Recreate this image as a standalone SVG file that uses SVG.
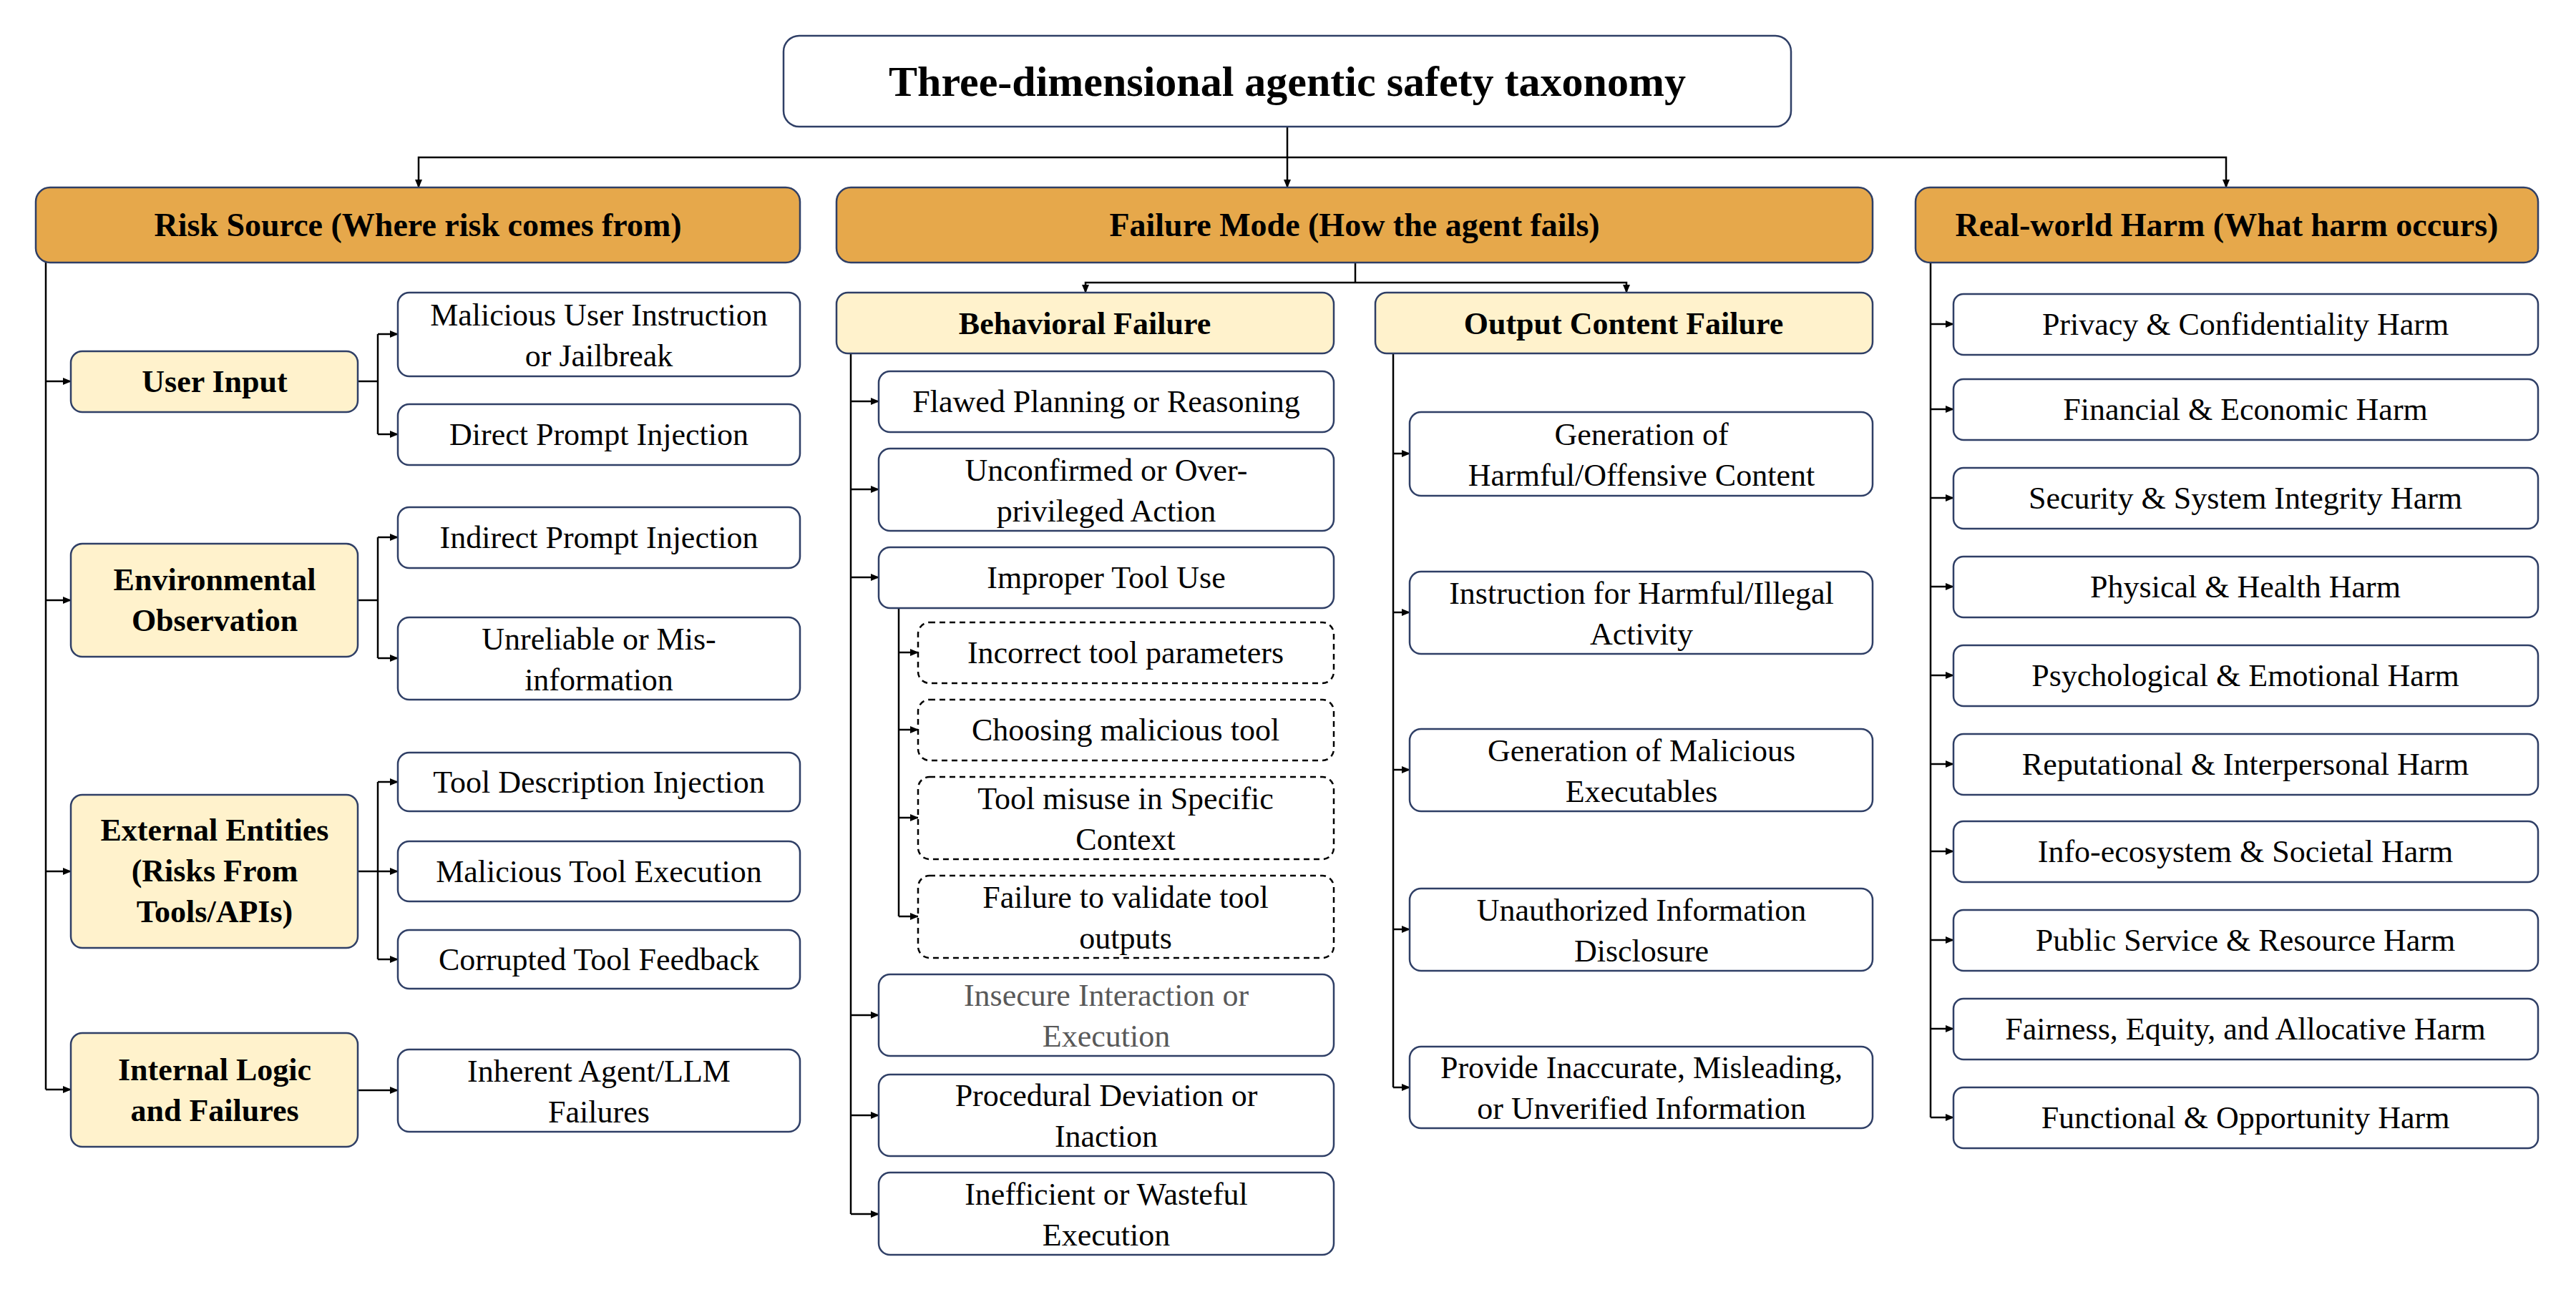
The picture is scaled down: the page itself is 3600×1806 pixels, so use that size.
<svg xmlns="http://www.w3.org/2000/svg" width="3600" height="1806" viewBox="0 0 3600 1806">
<defs>
<marker id="ar" markerUnits="userSpaceOnUse" markerWidth="12" markerHeight="12" refX="11" refY="6" orient="auto"><path d="M0,1 L12,6 L0,11 z" fill="#000"/></marker>
<style>
rect{stroke:#2F3F66;stroke-width:2.5}
.t{fill:#fff}
.l1{fill:#E6A84B}
.l2{fill:#FFF2CC}
.d{fill:#fff;stroke:#000;stroke-dasharray:8 6}
text{font-family:"Liberation Serif","Times New Roman",serif;font-size:44px;text-anchor:middle;fill:#000}
.b{font-weight:bold}
.g{fill:#595959}
#conn path{fill:none;stroke:#000;stroke-width:2.5}
#conn path.a{marker-end:url(#ar)}
</style>
</defs>
<rect width="3600" height="1806" fill="#fff" style="stroke:none"/>
<g id="conn">
<path class="a" d="M1799,177 V220 H585 V262"/>
<path class="a" d="M1799,220 V262"/>
<path class="a" d="M1799,220 H3111 V262"/>
<path d="M1894,367 V395"/>
<path class="a" d="M1894,395 H1517 V409"/>
<path class="a" d="M1894,395 H2273 V409"/>
<path d="M64,367 V1523"/>
<path class="a" d="M64,533 H99"/><path class="a" d="M64,839 H99"/><path class="a" d="M64,1218 H99"/><path class="a" d="M64,1523 H99"/>
<path d="M500,533 H528 M528,467 V607 M500,839 H528 M528,751 V920 M500,1218 H528 M528,1093 V1341"/>
<path class="a" d="M528,467 H556"/><path class="a" d="M528,607 H556"/>
<path class="a" d="M528,751 H556"/><path class="a" d="M528,920 H556"/>
<path class="a" d="M528,1093 H556"/><path class="a" d="M528,1218 H556"/><path class="a" d="M528,1341 H556"/>
<path class="a" d="M500,1524 H556"/>
<path d="M1189,494 V1697"/>
<path class="a" d="M1189,561 H1228"/><path class="a" d="M1189,684 H1228"/><path class="a" d="M1189,807 H1228"/><path class="a" d="M1189,1419 H1228"/><path class="a" d="M1189,1559 H1228"/><path class="a" d="M1189,1697 H1228"/>
<path d="M1256,850 V1281"/>
<path class="a" d="M1256,912 H1283"/><path class="a" d="M1256,1020 H1283"/><path class="a" d="M1256,1143 H1283"/><path class="a" d="M1256,1281 H1283"/>
<path d="M1947,494 V1520"/>
<path class="a" d="M1947,634 H1970"/><path class="a" d="M1947,856 H1970"/><path class="a" d="M1947,1076 H1970"/><path class="a" d="M1947,1299 H1970"/><path class="a" d="M1947,1520 H1970"/>
<path d="M2698,367 V1562"/>
<path class="a" d="M2698,453 H2730"/><path class="a" d="M2698,572 H2730"/><path class="a" d="M2698,696 H2730"/><path class="a" d="M2698,820 H2730"/><path class="a" d="M2698,944 H2730"/><path class="a" d="M2698,1068 H2730"/><path class="a" d="M2698,1190 H2730"/><path class="a" d="M2698,1314 H2730"/><path class="a" d="M2698,1438 H2730"/><path class="a" d="M2698,1562 H2730"/>
</g>
<g id="title"><rect class="t" x="1095" y="50" width="1408" height="127" rx="22"/><text class="b" x="1799" y="134" style="font-size:60px">Three-dimensional agentic safety taxonomy</text></g>
<g id="risk"><rect class="l1" x="50" y="262" width="1068" height="105" rx="20"/><text class="b" x="584" y="330" style="font-size:46px">Risk Source (Where risk comes from)</text></g>
<g id="failure"><rect class="l1" x="1169" y="262" width="1448" height="105" rx="20"/><text class="b" x="1893" y="330" style="font-size:46px">Failure Mode (How the agent fails)</text></g>
<g id="harm"><rect class="l1" x="2677" y="262" width="870" height="105" rx="20"/><text class="b" x="3112" y="330" style="font-size:46px">Real-world Harm (What harm occurs)</text></g>
<g id="userinput"><rect class="l2" x="99" y="491" width="401" height="85" rx="16"/><text class="b" x="300" y="548">User Input</text></g>
<g id="envobs"><rect class="l2" x="99" y="760" width="401" height="158" rx="16"/><text class="b" x="300" y="825">Environmental</text><text class="b" x="300" y="882">Observation</text></g>
<g id="external"><rect class="l2" x="99" y="1111" width="401" height="214" rx="16"/><text class="b" x="300" y="1175">External Entities</text><text class="b" x="300" y="1232">(Risks From</text><text class="b" x="300" y="1289">Tools/APIs)</text></g>
<g id="internal"><rect class="l2" x="99" y="1444" width="401" height="159" rx="16"/><text class="b" x="300" y="1510">Internal Logic</text><text class="b" x="300" y="1567">and Failures</text></g>
<g id="r1"><rect class="t" x="556" y="409" width="562" height="117" rx="16"/><text x="837" y="455">Malicious User Instruction</text><text x="837" y="512">or Jailbreak</text></g>
<g id="r2"><rect class="t" x="556" y="565" width="562" height="85" rx="16"/><text x="837" y="622">Direct Prompt Injection</text></g>
<g id="r3"><rect class="t" x="556" y="709" width="562" height="85" rx="16"/><text x="837" y="766">Indirect Prompt Injection</text></g>
<g id="r4"><rect class="t" x="556" y="863" width="562" height="115" rx="16"/><text x="837" y="908">Unreliable or Mis-</text><text x="837" y="965">information</text></g>
<g id="r5"><rect class="t" x="556" y="1052" width="562" height="82" rx="16"/><text x="837" y="1108">Tool Description Injection</text></g>
<g id="r6"><rect class="t" x="556" y="1176" width="562" height="84" rx="16"/><text x="837" y="1233">Malicious Tool Execution</text></g>
<g id="r7"><rect class="t" x="556" y="1300" width="562" height="82" rx="16"/><text x="837" y="1356">Corrupted Tool Feedback</text></g>
<g id="r8"><rect class="t" x="556" y="1467" width="562" height="115" rx="16"/><text x="837" y="1512">Inherent Agent/LLM</text><text x="837" y="1569">Failures</text></g>
<g id="behav"><rect class="l2" x="1169" y="409" width="695" height="85" rx="16"/><text class="b" x="1516" y="467">Behavioral Failure</text></g>
<g id="output"><rect class="l2" x="1922" y="409" width="695" height="85" rx="16"/><text class="b" x="2269" y="467">Output Content Failure</text></g>
<g id="b1"><rect class="t" x="1228" y="519" width="636" height="85" rx="16"/><text x="1546" y="576">Flawed Planning or Reasoning</text></g>
<g id="b2"><rect class="t" x="1228" y="627" width="636" height="115" rx="16"/><text x="1546" y="672">Unconfirmed or Over-</text><text x="1546" y="729">privileged Action</text></g>
<g id="b3"><rect class="t" x="1228" y="765" width="636" height="85" rx="16"/><text x="1546" y="822">Improper Tool Use</text></g>
<g id="s1"><rect class="d" x="1283" y="870" width="581" height="85" rx="16"/><text x="1573" y="927">Incorrect tool parameters</text></g>
<g id="s2"><rect class="d" x="1283" y="978" width="581" height="85" rx="16"/><text x="1573" y="1035">Choosing malicious tool</text></g>
<g id="s3"><rect class="d" x="1283" y="1086" width="581" height="115" rx="16"/><text x="1573" y="1131">Tool misuse in Specific</text><text x="1573" y="1188">Context</text></g>
<g id="s4"><rect class="d" x="1283" y="1224" width="581" height="115" rx="16"/><text x="1573" y="1269">Failure to validate tool</text><text x="1573" y="1326">outputs</text></g>
<g id="b4"><rect class="t" x="1228" y="1362" width="636" height="114" rx="16"/><text class="g" x="1546" y="1406">Insecure Interaction or</text><text class="g" x="1546" y="1463">Execution</text></g>
<g id="b5"><rect class="t" x="1228" y="1502" width="636" height="114" rx="16"/><text x="1546" y="1546">Procedural Deviation or</text><text x="1546" y="1603">Inaction</text></g>
<g id="b6"><rect class="t" x="1228" y="1639" width="636" height="115" rx="16"/><text x="1546" y="1684">Inefficient or Wasteful</text><text x="1546" y="1741">Execution</text></g>
<g id="o1"><rect class="t" x="1970" y="576" width="647" height="117" rx="16"/><text x="2294" y="622">Generation of</text><text x="2294" y="679">Harmful/Offensive Content</text></g>
<g id="o2"><rect class="t" x="1970" y="799" width="647" height="115" rx="16"/><text x="2294" y="844">Instruction for Harmful/Illegal</text><text x="2294" y="901">Activity</text></g>
<g id="o3"><rect class="t" x="1970" y="1019" width="647" height="115" rx="16"/><text x="2294" y="1064">Generation of Malicious</text><text x="2294" y="1121">Executables</text></g>
<g id="o4"><rect class="t" x="1970" y="1242" width="647" height="115" rx="16"/><text x="2294" y="1287">Unauthorized Information</text><text x="2294" y="1344">Disclosure</text></g>
<g id="o5"><rect class="t" x="1970" y="1463" width="647" height="114" rx="16"/><text x="2294" y="1507">Provide Inaccurate, Misleading,</text><text x="2294" y="1564">or Unverified Information</text></g>
<g id="h1"><rect class="t" x="2730" y="411" width="817" height="85" rx="14"/><text x="3138" y="468">Privacy &amp; Confidentiality Harm</text></g>
<g id="h2"><rect class="t" x="2730" y="530" width="817" height="85" rx="14"/><text x="3138" y="587">Financial &amp; Economic Harm</text></g>
<g id="h3"><rect class="t" x="2730" y="654" width="817" height="85" rx="14"/><text x="3138" y="711">Security &amp; System Integrity Harm</text></g>
<g id="h4"><rect class="t" x="2730" y="778" width="817" height="85" rx="14"/><text x="3138" y="835">Physical &amp; Health Harm</text></g>
<g id="h5"><rect class="t" x="2730" y="902" width="817" height="85" rx="14"/><text x="3138" y="959">Psychological &amp; Emotional Harm</text></g>
<g id="h6"><rect class="t" x="2730" y="1026" width="817" height="85" rx="14"/><text x="3138" y="1083">Reputational &amp; Interpersonal Harm</text></g>
<g id="h7"><rect class="t" x="2730" y="1148" width="817" height="85" rx="14"/><text x="3138" y="1205">Info-ecosystem &amp; Societal Harm</text></g>
<g id="h8"><rect class="t" x="2730" y="1272" width="817" height="85" rx="14"/><text x="3138" y="1329">Public Service &amp; Resource Harm</text></g>
<g id="h9"><rect class="t" x="2730" y="1396" width="817" height="85" rx="14"/><text x="3138" y="1453">Fairness, Equity, and Allocative Harm</text></g>
<g id="h10"><rect class="t" x="2730" y="1520" width="817" height="85" rx="14"/><text x="3138" y="1577">Functional &amp; Opportunity Harm</text></g>
</svg>
